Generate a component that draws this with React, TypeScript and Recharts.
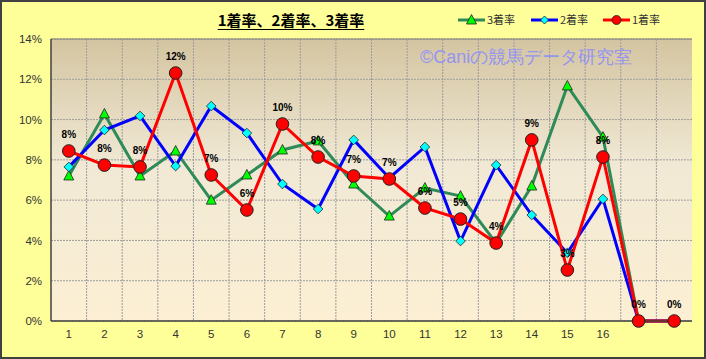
import React from "react";
import { LineChart, Line, XAxis, YAxis, CartesianGrid, LabelList, ReferenceLine } from "recharts";

const categories = ["1", "2", "3", "4", "5", "6", "7", "8", "9", "10", "11", "12", "13", "14", "15", "16", "", " "];
const rate1 = [8.44, 7.74, 7.65, 12.31, 7.25, 5.51, 9.78, 8.14, 7.2, 7.05, 5.61, 5.06, 3.87, 8.99, 2.53, 8.14, 0, 0];
const rate2 = [7.65, 9.48, 10.18, 7.69, 10.67, 9.33, 6.8, 5.56, 8.99, 7.1, 8.64, 3.97, 7.74, 5.26, 3.38, 6.06, 0, 0];
const rate3 = [7.2, 10.28, 7.2, 8.44, 6.0, 7.25, 8.49, 8.94, 6.8, 5.21, 6.6, 6.2, 3.87, 6.7, 11.67, 9.13, 0, 0];
const yTicks = [0, 2, 4, 6, 8, 10, 12, 14];
const titleText = "1着率、2着率、3着率";
const watermark = "©Caniの競馬データ研究室";
const seriesNames = { r1: "1着率", r2: "2着率", r3: "3着率" };

const data = categories.map((c, i) => ({ name: c, r1: rate1[i], r2: rate2[i], r3: rate3[i] }));

const GREEN = "#2E8B57";
const BLUE = "#0000FF";
const RED = "#FF0000";

const Circle = (p: any) => {
  if (p.cx == null || p.cy == null) return null;
  return <circle cx={p.cx} cy={p.cy} r={6.3} fill="#FF0000" stroke="#222" strokeWidth={1} />;
};
const Diamond = (p: any) => {
  if (p.cx == null || p.cy == null) return null;
  const { cx, cy } = p;
  const s = 4.8;
  return <path d={`M${cx},${cy - s}L${cx + s},${cy}L${cx},${cy + s}L${cx - s},${cy}Z`} fill="#00FFFF" stroke="#222" strokeWidth={0.8} />;
};
const Triangle = (p: any) => {
  if (p.cx == null || p.cy == null) return null;
  const { cx, cy } = p;
  return <path d={`M${cx},${cy - 5.5}L${cx + 5},${cy + 4}L${cx - 5},${cy + 4}Z`} fill="#00FF00" stroke="#222" strokeWidth={0.8} />;
};

const fontSans = "'Liberation Sans', Arial, sans-serif";
const fontCJK = "'Noto Sans CJK JP', 'Noto Sans', sans-serif";

export default function App() {
  return (
    <div style={{ position: "absolute", left: 0, top: 0, width: 706, height: 359, background: "#FFFF99", overflow: "hidden" }}>
      <svg width={0} height={0} style={{ position: "absolute" }}>
        <defs>
          <linearGradient id="plotGrad" x1="0" y1="0" x2="0" y2="1">
            <stop offset="0%" stopColor="#D4C5A1" />
            <stop offset="45%" stopColor="#F1E9D5" />
            <stop offset="100%" stopColor="#FCEFD3" />
          </linearGradient>
        </defs>
      </svg>
      <LineChart width={706} height={359} data={data} margin={{ top: 39, right: 14, bottom: 0, left: 0 }}>
        <CartesianGrid
          fill="url(#plotGrad)"
          fillOpacity={1}
          stroke="#9c9c9c"
          strokeDasharray="2 1"
          verticalCoordinatesGenerator={({ offset }: any) =>
            categories.map((_, i) => offset.left + (offset.width * i) / categories.length).slice(1)
          }
        />
        <XAxis
          dataKey="name"
          scale="band"
          height={38}
          tickLine={false}
          tickSize={0}
          tickMargin={9}
          interval={0}
          axisLine={{ stroke: "#404040", strokeWidth: 1.5 }}
          tick={{ fill: "#333", fontSize: 11.5, fontFamily: fontSans }}
        />
        <YAxis
          width={51}
          domain={[0, 14]}
          ticks={yTicks}
          tickFormatter={(v: number) => `${v}%`}
          tickLine={false}
          tickSize={0}
          tickMargin={9}
          axisLine={{ stroke: "#404040", strokeWidth: 1.5 }}
          tick={{ fill: "#333", fontSize: 11.5, fontFamily: fontSans }}
        />
        <YAxis yAxisId="right" orientation="right" width={0} domain={[0, 14]} tick={false} tickLine={false} axisLine={{ stroke: "#808080" }} />
        <ReferenceLine y={14} stroke="#808080" strokeWidth={1} />
        <Line dataKey="r3" name={seriesNames.r3} stroke={GREEN} strokeWidth={3} dot={<Triangle />} activeDot={false} isAnimationActive={false} />
        <Line dataKey="r2" name={seriesNames.r2} stroke={BLUE} strokeWidth={3} dot={<Diamond />} activeDot={false} isAnimationActive={false} />
        <Line dataKey="r1" name={seriesNames.r1} stroke={RED} strokeWidth={3} dot={<Circle />} activeDot={false} isAnimationActive={false}>
          <LabelList
            dataKey="r1"
            position="top"
            offset={13}
            formatter={(v: any) => `${Math.round(Number(v))}%`}
            style={{ fill: "#000", fontSize: 10, fontWeight: "bold", fontFamily: fontSans }}
          />
        </Line>
      </LineChart>
      <div
        style={{
          position: "absolute",
          left: 420,
          top: 45,
          width: 215,
          fontSize: 18,
          lineHeight: "24px",
          fontFamily: fontSans,
          color: "#9494F2",
          whiteSpace: "nowrap",
          pointerEvents: "none",
        }}
      >
        {watermark}
      </div>
      <div
        style={{
          position: "absolute",
          left: 191,
          top: 9,
          width: 200,
          textAlign: "center",
          fontSize: 15,
          lineHeight: "22px",
          fontWeight: "bold",
          fontFamily: fontCJK,
          textDecoration: "underline",
          textUnderlineOffset: 3,
          color: "#000",
          whiteSpace: "nowrap",
        }}
      >
        {titleText}
      </div>
      <svg style={{ position: "absolute", left: 450, top: 10, pointerEvents: "none" }} width={230} height={20}>
        {[
          { name: seriesNames.r3, color: GREEN, x: 8, mk: "t" },
          { name: seriesNames.r2, color: BLUE, x: 81, mk: "d" },
          { name: seriesNames.r1, color: RED, x: 153, mk: "c" },
        ].map((it) => (
          <g key={it.name}>
            <line x1={it.x} x2={it.x + 27} y1={10} y2={10} stroke={it.color} strokeWidth={3} />
            {it.mk === "t" && <Triangle cx={it.x + 13.5} cy={10} />}
            {it.mk === "d" && <path d={`M${it.x + 13.5},6L${it.x + 17.5},10L${it.x + 13.5},14L${it.x + 9.5},10Z`} fill="#00FFFF" stroke="#222" strokeWidth={0.8} />}
            {it.mk === "c" && <circle cx={it.x + 13.5} cy={10} r={4.5} fill="#FF0000" stroke="#222" strokeWidth={0.8} />}
            <text x={it.x + 29} y={14} fontSize={11} fill="#333" fontFamily={fontCJK}>
              {it.name}
            </text>
          </g>
        ))}
      </svg>
      <div
        style={{
          position: "absolute",
          left: 0,
          top: 0,
          width: 706,
          height: 359,
          boxSizing: "border-box",
          border: "2px solid #404040",
          pointerEvents: "none",
        }}
      />
    </div>
  );
}
